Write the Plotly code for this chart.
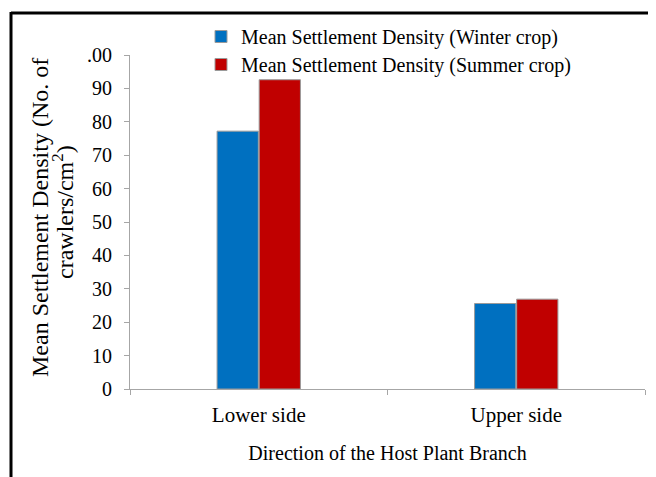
import plotly.graph_objects as go

categories = ["Lower side", "Upper side"]
winter = [77.2, 25.6]
summer = [92.6, 26.9]
series_names = ["Mean Settlement Density (Winter crop)", "Mean Settlement Density (Summer crop)"]
y_tickvals = [0, 10, 20, 30, 40, 50, 60, 70, 80, 90, 100]
y_ticktext = ["0", "10", "20", "30", "40", "50", "60", "70", "80", "90", ".00"]
y_title_lines = ["Mean Settlement Density (No. of", "crawlers/cm<sup>2</sup>)"]

FONT = "Liberation Serif, Times New Roman, serif"
OFF = 8  # page body margin offset
W, H = 656 - OFF, 477 - OFF
L, T = 130 - OFF, 55 - OFF
R = W - (645 - OFF)
B = H - (389 - OFF)

fig = go.Figure()
fig.add_trace(go.Bar(x=categories, y=winter, name=series_names[0],
                     marker=dict(color="#0070c0", line=dict(color="#9a9a9a", width=1)),
                     legend="legend"))
fig.add_trace(go.Bar(x=categories, y=summer, name=series_names[1],
                     marker=dict(color="#c00000", line=dict(color="#9a9a9a", width=1)),
                     legend="legend2"))

pw = W - L - R
ph = H - T - B
def px_x(sx):
    return (sx - OFF - L) / pw
def px_y(sy):
    return (H - B - (sy - OFF)) / ph

fig.update_layout(
    width=W, height=H,
    margin=dict(l=L, r=R, t=T, b=B, autoexpand=False),
    paper_bgcolor="white", plot_bgcolor="white",
    font=dict(family=FONT, size=20, color="black"),
    barmode="group", bargap=0.673, bargroupgap=0.02,
    showlegend=True,
    legend=dict(x=px_x(201), y=px_y(17), xanchor="left", yanchor="top",
                font=dict(family=FONT, size=20), bgcolor="rgba(0,0,0,0)",
                itemwidth=30, borderwidth=0),
    legend2=dict(x=px_x(201), y=px_y(45), xanchor="left", yanchor="top",
                 font=dict(family=FONT, size=20), bgcolor="rgba(0,0,0,0)",
                 itemwidth=30, borderwidth=0),
    xaxis=dict(type="category", range=[-0.5, 1.5], showline=True, linecolor="#a6a6a6",
               linewidth=1, ticks="outside", tickson="boundaries", ticklen=5,
               tickcolor="#a6a6a6", showgrid=False, ticklabelstandoff=7,
               tickfont=dict(family=FONT, size=21),
               title=dict(text="Direction of the Host Plant Branch",
                          font=dict(family=FONT, size=20), standoff=19)),
    yaxis=dict(range=[0, 100], tickvals=y_tickvals, ticktext=y_ticktext,
               showline=True, linecolor="#a6a6a6", linewidth=1, ticks="outside",
               ticklen=5, tickcolor="#a6a6a6", showgrid=False, zeroline=False,
               ticklabelstandoff=8,
               tickfont=dict(family=FONT, size=20)),
    annotations=[
        dict(text=y_title_lines[0], xref="paper", yref="paper", x=px_x(40), y=px_y(218),
             textangle=-90, showarrow=False, font=dict(family=FONT, size=24),
             xanchor="center", yanchor="middle"),
        dict(text=y_title_lines[1], xref="paper", yref="paper", x=px_x(63), y=px_y(212),
             textangle=-90, showarrow=False, font=dict(family=FONT, size=24),
             xanchor="center", yanchor="middle"),
    ],
    shapes=[
        dict(type="line", xref="paper", yref="paper", x0=px_x(11), x1=px_x(700),
             y0=px_y(13), y1=px_y(13), line=dict(color="black", width=3)),
        dict(type="line", xref="paper", yref="paper", x0=px_x(11), x1=px_x(11),
             y0=px_y(12), y1=px_y(520), line=dict(color="black", width=3)),
    ],
)

fig.write_html("out.html")
